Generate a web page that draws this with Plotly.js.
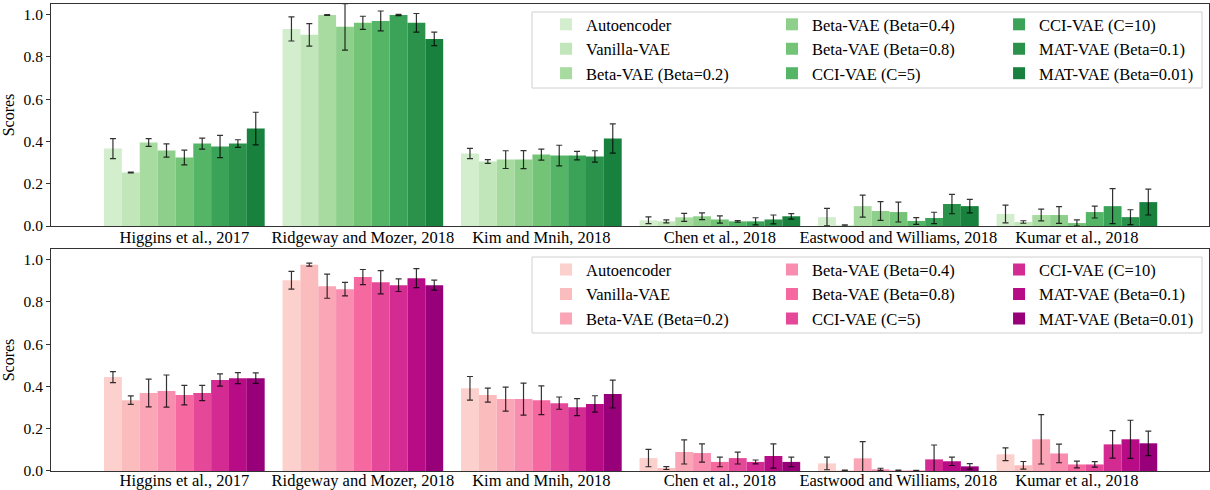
<!DOCTYPE html>
<html>
<head>
<meta charset="utf-8">
<script src="https://cdn.plot.ly/plotly-3.0.1.min.js"></script>
<style>html,body{margin:0;padding:0;background:#fff}#chart{width:1210px;height:490px}</style>
</head>
<body>
<div id="chart"></div>
<script>
const categories = ["Higgins et al., 2017", "Ridgeway and Mozer, 2018", "Kim and Mnih, 2018", "Chen et al., 2018", "Eastwood and Williams, 2018", "Kumar et al., 2018"];
const models = ["Autoencoder", "Vanilla-VAE", "Beta-VAE (Beta=0.2)", "Beta-VAE (Beta=0.4)", "Beta-VAE (Beta=0.8)", "CCI-VAE (C=5)", "CCI-VAE (C=10)", "MAT-VAE (Beta=0.1)", "MAT-VAE (Beta=0.01)"];

// Top panel (greens): values per category, in model order
const topHiggins   = [0.366, 0.253, 0.395, 0.357, 0.324, 0.390, 0.376, 0.390, 0.461];
const topHigginsErr= [0.047, 0.002, 0.018, 0.031, 0.035, 0.026, 0.053, 0.018, 0.077];
const topRidgeway   = [0.932, 0.904, 0.998, 0.942, 0.961, 0.970, 0.998, 0.961, 0.885];
const topRidgewayErr= [0.057, 0.053, 0.002, 0.110, 0.031, 0.047, 0.003, 0.044, 0.032];
const topKim   = [0.343, 0.305, 0.314, 0.314, 0.338, 0.333, 0.333, 0.329, 0.414];
const topKimErr= [0.024, 0.009, 0.042, 0.043, 0.026, 0.049, 0.020, 0.027, 0.069];
const topChen   = [0.027, 0.022, 0.041, 0.046, 0.031, 0.022, 0.022, 0.031, 0.046];
const topChenErr= [0.016, 0.007, 0.019, 0.016, 0.017, 0.004, 0.017, 0.021, 0.013];
const topEastwood   = [0.042, 0.003, 0.094, 0.071, 0.066, 0.024, 0.038, 0.104, 0.094];
const topEastwoodErr= [0.041, 0.003, 0.052, 0.044, 0.047, 0.016, 0.027, 0.046, 0.032];
const topKumar   = [0.057, 0.019, 0.052, 0.052, 0.014, 0.066, 0.094, 0.042, 0.113];
const topKumarErr= [0.042, 0.006, 0.028, 0.040, 0.015, 0.028, 0.083, 0.035, 0.061];

// Bottom panel (pinks)
const botHiggins   = [0.444, 0.335, 0.369, 0.378, 0.359, 0.369, 0.430, 0.439, 0.439];
const botHigginsErr= [0.026, 0.020, 0.066, 0.076, 0.046, 0.036, 0.029, 0.026, 0.025];
const botRidgeway   = [0.902, 0.976, 0.874, 0.860, 0.917, 0.893, 0.879, 0.912, 0.879];
const botRidgewayErr= [0.042, 0.007, 0.057, 0.032, 0.036, 0.055, 0.030, 0.045, 0.024];
const botKim   = [0.391, 0.359, 0.340, 0.340, 0.335, 0.321, 0.302, 0.317, 0.364];
const botKimErr= [0.056, 0.033, 0.057, 0.076, 0.068, 0.029, 0.040, 0.039, 0.066];
const botChen   = [0.061, 0.014, 0.090, 0.085, 0.043, 0.061, 0.043, 0.071, 0.043];
const botChenErr= [0.041, 0.007, 0.057, 0.043, 0.023, 0.028, 0.009, 0.057, 0.023];
const botEastwood   = [0.036, 0.002, 0.060, 0.008, 0.002, 0.002, 0.055, 0.046, 0.022];
const botEastwoodErr= [0.030, 0.002, 0.079, 0.005, 0.002, 0.001, 0.068, 0.020, 0.013];
const botKumar   = [0.079, 0.027, 0.150, 0.083, 0.031, 0.031, 0.126, 0.150, 0.131];
const botKumarErr= [0.030, 0.018, 0.117, 0.044, 0.016, 0.013, 0.065, 0.090, 0.058];

const greens = ["#d3eecd", "#c0e6b9", "#a7dba0", "#8ed08b", "#73c476", "#55b567", "#3aa357", "#2a924a", "#17813d"];
const pinks  = ["#fcd0cc", "#fbbcbd", "#faa6b6", "#f88db0", "#f668a0", "#e54898", "#d42b93", "#b70c85", "#98007a"];

const topRows = [topHiggins, topRidgeway, topKim, topChen, topEastwood, topKumar];
const topErrRows = [topHigginsErr, topRidgewayErr, topKimErr, topChenErr, topEastwoodErr, topKumarErr];
const botRows = [botHiggins, botRidgeway, botKim, botChen, botEastwood, botKumar];
const botErrRows = [botHigginsErr, botRidgewayErr, botKimErr, botChenErr, botEastwoodErr, botKumarErr];

const FONT = "Liberation Serif, Times New Roman, serif";
// legend columns (3 per panel, filled column-wise like the original)
const topLegends = ["legend", "legend2", "legend3"];
const botLegends = ["legend4", "legend5", "legend6"];

const traces = [];
models.forEach((m, i) => {
  traces.push({
    type: "bar", name: m, x: categories,
    y: topRows.map(r => r[i]),
    error_y: {type: "data", array: topErrRows.map(r => r[i]), visible: true, color: "rgba(0,0,0,0.8)", thickness: 1.2, width: 3},
    marker: {color: greens[i], line: {width: 0}},
    xaxis: "x", yaxis: "y", legend: topLegends[Math.floor(i / 3)]
  });
});
models.forEach((m, i) => {
  traces.push({
    type: "bar", name: m, x: categories,
    y: botRows.map(r => r[i]),
    error_y: {type: "data", array: botErrRows.map(r => r[i]), visible: true, color: "rgba(0,0,0,0.8)", thickness: 1.2, width: 3},
    marker: {color: pinks[i], line: {width: 0}},
    xaxis: "x2", yaxis: "y2", legend: botLegends[Math.floor(i / 3)]
  });
});

const xBase = {
  type: "category", range: [-0.747, 5.74], showline: true, mirror: true, linecolor: "#333", linewidth: 1,
  ticks: "", showgrid: false, zeroline: false, ticklabelstandoff: -4,
  tickfont: {family: FONT, size: 16.5, color: "#000"}
};
const yBase = {
  range: [0, 1.05], dtick: 0.2, tickformat: ".1f", showline: true, mirror: true, linecolor: "#333", linewidth: 1,
  ticks: "outside", ticklen: 4, tickcolor: "#333", showgrid: false, zeroline: false,
  tickfont: {family: FONT, size: 15.5, color: "#000"},
  title: {text: "Scores", font: {family: FONT, size: 16, color: "#000"}, standoff: 6}
};
const legBase = {
  orientation: "v", xanchor: "left", yanchor: "top",
  bgcolor: "rgba(0,0,0,0)", borderwidth: 0,
  font: {family: FONT, size: 16.5, color: "#000"}, traceorder: "normal"
};
const colX = [0.4275, 0.6226, 0.8187];
const topY = 0.9934, botY = 0.4684;

const layout = {
  width: 1210, height: 490,
  margin: {l: 51, r: 1, t: 4, b: 19},
  paper_bgcolor: "#fff", plot_bgcolor: "#fff",
  barmode: "group", bargap: 0.1, bargroupgap: 0,
  font: {family: FONT, color: "#000"},
  xaxis: Object.assign({}, xBase, {anchor: "y", domain: [0, 1]}),
  yaxis: Object.assign({}, yBase, {anchor: "x", domain: [0.5246, 1]}),
  xaxis2: Object.assign({}, xBase, {anchor: "y2", domain: [0, 1], ticklabelstandoff: -6}),
  yaxis2: Object.assign({}, yBase, {anchor: "x2", domain: [0, 0.4754]}),
  legend:  Object.assign({}, legBase, {x: colX[0], y: topY}),
  legend2: Object.assign({}, legBase, {x: colX[1], y: topY}),
  legend3: Object.assign({}, legBase, {x: colX[2], y: topY}),
  legend4: Object.assign({}, legBase, {x: colX[0], y: botY}),
  legend5: Object.assign({}, legBase, {x: colX[1], y: botY}),
  legend6: Object.assign({}, legBase, {x: colX[2], y: botY}),
  shapes: [
    {type: "rect", xref: "paper", yref: "paper", x0: 0.4154, x1: 0.9940, y0: 0.8201, y1: 0.9829,
     line: {color: "#d0d0d0", width: 1}, fillcolor: "rgba(255,255,255,0.8)", layer: "above"},
    {type: "rect", xref: "paper", yref: "paper", x0: 0.4154, x1: 0.9940, y0: 0.2955, y1: 0.4582,
     line: {color: "#d0d0d0", width: 1}, fillcolor: "rgba(255,255,255,0.8)", layer: "above"}
  ],
  showlegend: true
};

Plotly.newPlot("chart", traces, layout, {displayModeBar: false, staticPlot: true});
</script>
</body>
</html>
